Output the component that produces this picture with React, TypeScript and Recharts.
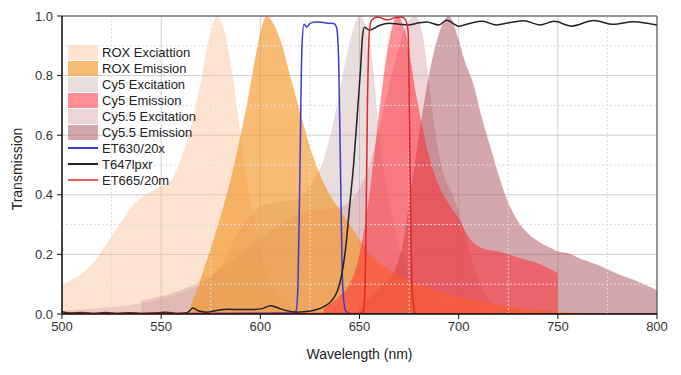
import React from "react";
import { Area, CartesianGrid, ComposedChart, Line, ReferenceLine, XAxis, YAxis } from "recharts";

type Pt = [number, number];

// wavelength (nm) / transmission pairs
const roxEx: Pt[] = [
  [500, 0.1], [505, 0.115], [510, 0.135], [515, 0.165], [520, 0.21], [525, 0.26], [530, 0.31],
  [535, 0.36], [540, 0.39], [545, 0.41], [550, 0.43], [555, 0.45], [560, 0.52], [565, 0.63],
  [570, 0.78], [574, 0.92], [578, 1.0], [582, 0.95], [586, 0.8], [590, 0.6], [594, 0.42],
  [598, 0.27], [602, 0.16], [606, 0.09], [610, 0.05], [615, 0.025], [620, 0.01], [630, 0],
];
const roxEm: Pt[] = [
  [565, 0.03], [568, 0.08], [571, 0.14], [575, 0.22], [580, 0.33], [585, 0.45], [590, 0.6],
  [594, 0.73], [598, 0.88], [601, 0.97], [603, 1.0], [607, 0.97], [611, 0.9], [615, 0.8],
  [620, 0.68], [625, 0.56], [630, 0.47], [635, 0.4], [640, 0.35], [645, 0.3], [650, 0.25],
  [655, 0.2], [660, 0.17], [670, 0.13], [680, 0.1], [690, 0.075], [700, 0.058], [710, 0.045],
  [720, 0.032], [730, 0.022], [740, 0.014], [750, 0.008], [760, 0.004],
];
const cy5Ex: Pt[] = [
  [500, 0.012], [510, 0.015], [520, 0.02], [530, 0.027], [540, 0.035], [550, 0.05], [560, 0.07],
  [570, 0.1], [580, 0.16], [586, 0.24], [593, 0.31], [600, 0.36], [610, 0.375], [620, 0.39],
  [626, 0.44], [632, 0.52], [638, 0.68], [643, 0.85], [647, 0.96], [650, 1.0], [653, 0.97],
  [657, 0.82], [660, 0.6], [664, 0.42], [668, 0.28], [672, 0.18], [677, 0.1], [683, 0.055],
  [690, 0.03], [700, 0.015], [715, 0.005], [730, 0],
];
const cy5Em: Pt[] = [
  [632, 0.02], [640, 0.06], [645, 0.1], [650, 0.2], [655, 0.4], [660, 0.68], [665, 0.92],
  [669, 1.0], [673, 0.95], [679, 0.72], [685, 0.53], [690, 0.43], [695, 0.37], [700, 0.32],
  [706, 0.25], [712, 0.22], [720, 0.21], [730, 0.19], [740, 0.17], [750, 0.137],
];
const cy55Ex: Pt[] = [
  [540, 0.045], [550, 0.06], [560, 0.08], [570, 0.11], [580, 0.15], [590, 0.2], [600, 0.25],
  [610, 0.3], [620, 0.335], [630, 0.35], [640, 0.36], [648, 0.4], [655, 0.5], [662, 0.68],
  [668, 0.85], [673, 0.96], [678, 1.0], [682, 0.93], [685, 0.78], [688, 0.62], [692, 0.48],
  [697, 0.4], [701, 0.32], [705, 0.22], [709, 0.13], [714, 0.06], [720, 0.028], [730, 0.012],
  [745, 0],
];
const cy55Em: Pt[] = [
  [650, 0.02], [655, 0.05], [662, 0.1], [668, 0.15], [672, 0.24], [676, 0.42], [680, 0.6],
  [685, 0.8], [690, 0.94], [695, 1.0], [700, 0.92], [703, 0.85], [707, 0.78], [712, 0.65],
  [716, 0.56], [720, 0.47], [724, 0.39], [730, 0.31], [735, 0.27], [741, 0.24], [747, 0.22],
  [750, 0.21], [755, 0.205], [760, 0.19], [770, 0.165], [775, 0.15], [780, 0.135], [790, 0.11],
  [800, 0.08],
];
const et630: Pt[] = [
  [500, 0], [615, 0.003], [618, 0.01], [619, 0.1], [620, 0.5], [621, 0.9], [622, 0.972],
  [623.5, 0.963], [625, 0.975], [628, 0.98], [631, 0.979], [634, 0.976], [637, 0.975],
  [638.5, 0.96], [639.5, 0.85], [640.5, 0.45], [641.5, 0.1], [643, 0.01], [646, 0], [800, 0],
];
const t647: Pt[] = [
  [500, 0.008], [504, 0.003], [510, 0.005], [516, 0.002], [522, 0.005], [528, 0.002], [534, 0.004],
  [540, 0.002], [546, 0.003], [552, 0.006], [558, 0.002], [563, 0.004], [566, 0.02], [569, 0.01],
  [573, 0.006], [578, 0.012], [584, 0.016], [590, 0.015], [596, 0.015], [601, 0.018], [605, 0.028],
  [609, 0.02], [614, 0.01], [618, 0.006], [623, 0.008], [628, 0.014], [632, 0.025], [636, 0.045],
  [639, 0.08], [641, 0.13], [643, 0.22], [645, 0.36], [647, 0.5], [649, 0.68], [650.5, 0.82],
  [651.5, 0.93], [652.5, 0.962], [655, 0.952], [660, 0.968], [665, 0.976], [670, 0.972],
  [675, 0.97], [680, 0.977], [684, 0.98], [690, 0.97], [694, 0.986], [700, 0.966], [706, 0.976],
  [712, 0.982], [719, 0.97], [726, 0.978], [733, 0.984], [741, 0.97], [748, 0.982], [757, 0.966],
  [768, 0.985], [778, 0.972], [788, 0.981], [795, 0.976], [800, 0.97],
];
const et665: Pt[] = [
  [500, 0.002], [650, 0.002], [652, 0.01], [653, 0.15], [654, 0.7], [655, 0.95], [656, 0.985],
  [659, 0.997], [664, 0.987], [668, 0.995], [671, 0.997], [673, 0.99], [674.5, 0.95],
  [675.5, 0.5], [676.5, 0.08], [678, 0.005], [680, 0], [800, 0],
];

const xTicks = [500, 550, 600, 650, 700, 750, 800];
const yTicks = [0, 0.2, 0.4, 0.6, 0.8, 1.0];
const minorX = [525, 575, 625, 675, 725, 775];
const minorY = [0.1, 0.3, 0.5, 0.7, 0.9];

// legend order
const areas = [
  { key: "roxEx", name: "ROX Exciattion", pts: roxEx, color: "#f9b98a", op: 0.4 },
  { key: "roxEm", name: "ROX Emission", pts: roxEm, color: "#f59628", op: 0.65 },
  { key: "cy5Ex", name: "Cy5 Excitation", pts: cy5Ex, color: "#c8aaaa", op: 0.4 },
  { key: "cy5Em", name: "Cy5 Emission", pts: cy5Em, color: "#ff2832", op: 0.52 },
  { key: "cy55Ex", name: "Cy5.5 Excitation", pts: cy55Ex, color: "#d7a0a5", op: 0.45 },
  { key: "cy55Em", name: "Cy5.5 Emission", pts: cy55Em, color: "#a03c46", op: 0.45 },
];
// drawing order: excitations underneath, then emissions, red on top
const drawOrder = ["roxEx", "cy5Ex", "cy55Ex", "cy55Em", "roxEm", "cy5Em"];
const lines = [
  { key: "et630", name: "ET630/20x", pts: et630, color: "#3b3bd0" },
  { key: "t647", name: "T647lpxr", pts: t647, color: "#222222" },
  { key: "et665", name: "ET665/20m", pts: et665, color: "#e52424" },
];

const allSeries = [...areas, ...lines];
const xs = Array.from(new Set(allSeries.flatMap((s) => s.pts.map((p) => p[0])))).sort((a, b) => a - b);
const table = xs.map((x) => {
  const row: Record<string, number> = { x };
  allSeries.forEach((s) => {
    const hit = s.pts.find((p) => p[0] === x);
    if (hit) row[s.key] = hit[1];
  });
  return row;
});

const font = "'Liberation Sans', Arial, sans-serif";

function LegendBox() {
  return (
    <div style={{ position: "absolute", left: 68, top: 44, fontFamily: font, fontSize: 13, color: "#222" }}>
      {areas.map((a) => (
        <div key={a.key} style={{ display: "flex", alignItems: "center", height: 16 }}>
          <div style={{ width: 30, height: 15, background: a.color, opacity: a.op, marginRight: 4 }} />
          <span>{a.name}</span>
        </div>
      ))}
      {lines.map((l) => (
        <div key={l.key} style={{ display: "flex", alignItems: "center", height: 16 }}>
          <div style={{ width: 30, height: 2, background: l.color, opacity: l.key === "et665" ? 0.75 : 1, marginRight: 4 }} />
          <span>{l.name}</span>
        </div>
      ))}
    </div>
  );
}

export default function App() {
  const tick = { fontFamily: font, fontSize: 13, fill: "#333" };
  return (
    <div style={{ position: "absolute", left: 0, top: 0, width: 681, height: 375, background: "#fff" }}>
      <ComposedChart width={681} height={375} data={table} margin={{ top: 16, right: 24, left: 0, bottom: 0 }}>
        <CartesianGrid stroke="#cfcfcf" />
        {minorX.map((v) => (
          <ReferenceLine key={"mx" + v} x={v} stroke="#dedede" strokeDasharray="2 2" />
        ))}
        {minorY.map((v) => (
          <ReferenceLine key={"my" + v} y={v} stroke="#dedede" strokeDasharray="2 2" />
        ))}
        <XAxis
          dataKey="x"
          type="number"
          domain={[500, 800]}
          ticks={xTicks}
          height={61}
          tick={tick}
          tickSize={5}
          tickMargin={3}
          axisLine={{ stroke: "#111", strokeWidth: 1.5 }}
          tickLine={{ stroke: "#111" }}
          allowDataOverflow
          label={{ value: "Wavelength (nm)", position: "insideBottom", offset: 16, style: { fontFamily: font, fontSize: 14, fill: "#222" } }}
        />
        <YAxis
          type="number"
          domain={[0, 1]}
          ticks={yTicks}
          width={62}
          tick={tick}
          tickSize={5}
          tickMargin={4}
          tickFormatter={(v: number) => v.toFixed(1)}
          axisLine={{ stroke: "#111", strokeWidth: 1.5 }}
          tickLine={{ stroke: "#111" }}
          allowDataOverflow
          label={{
            content: ({ viewBox }: any) => {
              const cx = viewBox.x + 17;
              const cy = viewBox.y + viewBox.height / 2 + 4;
              return (
                <text x={cx} y={cy} transform={`rotate(-90 ${cx} ${cy})`} textAnchor="middle" dominantBaseline="central" fontFamily={font} fontSize={14} fill="#222">
                  Transmission
                </text>
              );
            },
          }}
        />
        {drawOrder.map((k) => {
          const a = areas.find((s) => s.key === k)!;
          return (
            <Area
              key={a.key}
              type="monotone"
              dataKey={a.key}
              stroke="none"
              fill={a.color}
              fillOpacity={a.op}
              connectNulls
              dot={false}
              activeDot={false}
              isAnimationActive={false}
            />
          );
        })}
        {lines.map((l) => (
          <Line
            key={l.key}
            type="monotone"
            dataKey={l.key}
            stroke={l.color}
            strokeWidth={1.5}
            connectNulls
            dot={false}
            activeDot={false}
            isAnimationActive={false}
          />
        ))}
        <ReferenceLine y={1} stroke="#444" />
        <ReferenceLine x={800} stroke="#444" />
      </ComposedChart>
      <LegendBox />
    </div>
  );
}
